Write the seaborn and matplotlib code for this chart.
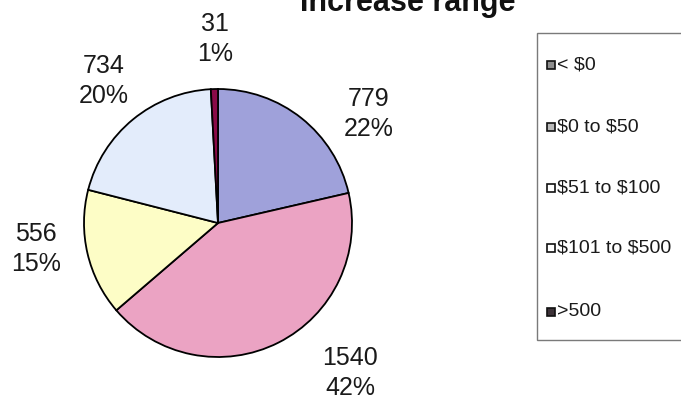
import matplotlib
matplotlib.use("Agg")
import matplotlib.pyplot as plt
from matplotlib.patches import Rectangle
import seaborn as sns

# Data
categories = ["< $0", "$0 to $50", "$51 to $100", "$101 to $500", ">500"]
counts = [779, 1540, 556, 734, 31]
percents = [22, 42, 15, 20, 1]
title = "Increase range"

# Styling
slice_colors = sns.color_palette(["#9fa1da", "#eba3c3", "#fdfdc6", "#e3ecfb", "#8a0a48"])
legend_swatches = ["#8e8e8e", "#b9b9b9", "#ffffff", "#ffffff", "#3d3238"]

sns.set_theme(style="white")
plt.rcParams["font.family"] = ["Liberation Sans", "DejaVu Sans"]
plt.rcParams["text.parse_math"] = False

W, H = 681, 401
fig = plt.figure(figsize=(W / 100, H / 100), dpi=100)
fig.patch.set_facecolor("white")

def fx(px):
    return px / W

def fy(py):
    return 1 - py / H

# Pie area: centre and radius in pixels
cx, cy, r = 218, 223, 134
ax = fig.add_axes([fx(cx - r), fy(cy + r), 2 * r / W, 2 * r / H])
ax.pie(counts, colors=slice_colors, startangle=90, counterclock=False,
       wedgeprops=dict(edgecolor="black", linewidth=1.3))
ax.set_xlim(-1, 1)
ax.set_ylim(-1, 1)
ax.set_aspect("equal")
ax.axis("off")

# Data labels (value over percentage) placed around the pie
label_pos = [(369, 114), (350, 373), (36, 249), (104, 81), (215, 39)]
for (px, py), n, p in zip(label_pos, counts, percents):
    fig.text(fx(px), fy(py), f"{n}\n{p}%", ha="center", va="center",
             multialignment="center", fontsize=18, linespacing=1.35,
             color="#1a1a1a")

# Title, partly above the top edge
fig.text(fx(408), fy(11), title, ha="center", va="baseline",
         fontsize=22, fontweight="bold", color="#111111")

# Legend box running off the right edge
fig.patches.append(Rectangle((fx(537), fy(340)), fx(200), (340 - 33) / H,
                             transform=fig.transFigure, facecolor="white",
                             edgecolor="#7a7a7a", linewidth=1.0, zorder=1))
entry_y = [65, 127, 188, 248, 312]
for y, lab, sw in zip(entry_y, categories, legend_swatches):
    fig.patches.append(Rectangle((fx(547), fy(y + 4)), 8 / W, 8 / H,
                                 transform=fig.transFigure, facecolor=sw,
                                 edgecolor="#111111", linewidth=1.2, zorder=2))
    fig.text(fx(557), fy(y), lab, ha="left", va="center", fontsize=14,
             color="#1a1a1a", zorder=3)

fig.savefig("out.png", dpi=100, facecolor="white")
